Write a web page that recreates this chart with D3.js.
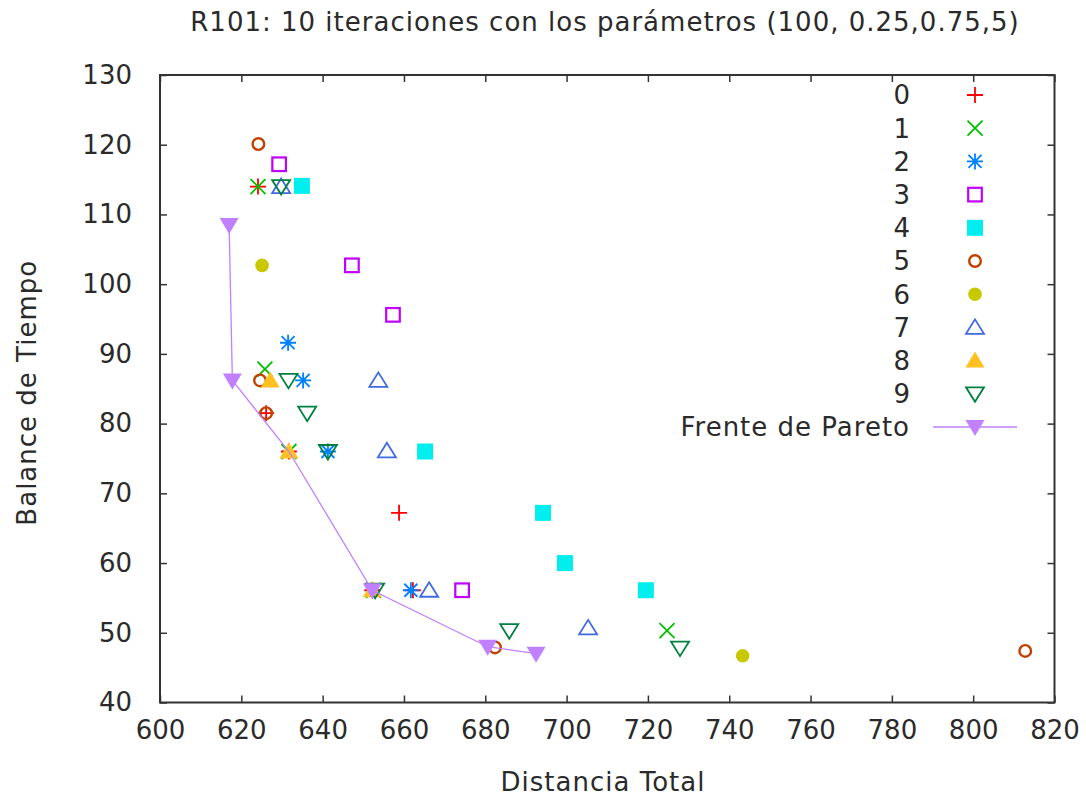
<!DOCTYPE html>
<html>
<head>
<meta charset="utf-8">
<script src="https://cdn.jsdelivr.net/npm/d3@7"></script>
<style>
  html, body { margin: 0; padding: 0; background: #fff; }
  svg { display: block; }
  text { font-family: "DejaVu Sans", sans-serif; fill: #2a2a2a; }
</style>
</head>
<body>
<svg id="chart" width="1086" height="797"></svg>
<script>
// Iteration results: Distancia Total (x) vs Balance de Tiempo (y)
const seriesNames = ["0", "1", "2", "3", "4", "5", "6", "7", "8", "9"];
const seriesColors = ["#ff0000", "#00c000", "#0080ff", "#c000ff", "#00eeee",
                      "#c04000", "#c8c800", "#4169e1", "#ffc020", "#008040"];
const seriesSymbols = ["plus", "cross", "star", "square", "squareFill",
                       "circle", "circleFill", "tri", "triFill", "triDown"];

const x0 = [624.1, 626.1, 631.7, 652.2, 658.8, 662.2];
const y0 = [114, 81.5, 76, 56.1, 67.2, 56.1];
const x1 = [624.1, 625.8, 631.7, 652.5, 724.7];
const y1 = [114, 87.8, 76, 56.1, 50.3];
const x2 = [631.5, 635.2, 641.3, 661.7];
const y2 = [91.6, 86.2, 76, 56.1];
const x3 = [629.3, 647.2, 657.3, 674.3];
const y3 = [117.2, 102.7, 95.6, 56.1];
const x4 = [634.9, 665.2, 694.2, 699.6, 719.5];
const y4 = [114.1, 76, 67.2, 60, 56.1];
const x5 = [624.2, 624.6, 626.1, 682.4, 812.8];
const y5 = [120.1, 86.2, 81.5, 47.9, 47.4];
const x6 = [625.1, 743.3];
const y6 = [102.7, 46.7];
const x7 = [629.8, 653.7, 655.8, 666.2, 705.3];
const y7 = [114, 86.2, 76.1, 56.1, 50.7];
const x8 = [627.1, 631.7, 652.2];
const y8 = [86.2, 76, 56.1];
const x9 = [629.8, 631.6, 636.2, 641.3, 652.9, 685.9, 727.9];
const y9 = [114, 86.2, 81.5, 76, 56.1, 50.3, 47.8];

// Pareto front: vertices of the polyline; marked = vertex drawn with a symbol
const paretoName = "Frente de Pareto";
const paretoX = [617, 617.8, 631.7, 652.2, 680.6, 692.5];
const paretoY = [108.5, 86.2, 76, 56.1, 48, 47];
const paretoMarked = [true, true, false, true, true, true];
const paretoColor = "#c080ff";

const xTicks = [600, 620, 640, 660, 680, 700, 720, 740, 760, 780, 800, 820];
const yTicks = [40, 50, 60, 70, 80, 90, 100, 110, 120, 130];

const titleText = "R101: 10 iteraciones con los parámetros (100, 0.25,0.75,5)";
const xLabel = "Distancia Total";
const yLabel = "Balance de Tiempo";

const allX = [x0, x1, x2, x3, x4, x5, x6, x7, x8, x9];
const allY = [y0, y1, y2, y3, y4, y5, y6, y7, y8, y9];
const series = seriesNames.map((name, i) => ({
  name, color: seriesColors[i], symbol: seriesSymbols[i],
  points: allX[i].map((v, j) => ({ x: v, y: allY[i][j] }))
}));
const pareto = paretoX.map((v, i) => ({ x: v, y: paretoY[i], marked: paretoMarked[i] }));

const svg = d3.select("#chart");
const plotLeft = 160, plotRight = 1054.5, plotTop = 75, plotBottom = 702.5;
const fontSize = 26;
const spacing = "1px";

const x = d3.scaleLinear().domain([600, 820]).range([plotLeft, plotRight]);
const y = d3.scaleLinear().domain([40, 130]).range([plotBottom, plotTop]);

// Symbol painter (gnuplot-like point types)
function drawSymbol(g, type, color) {
  const sw = 1.8;
  switch (type) {
    case "plus":
      g.append("path").attr("d", "M-8,0H8M0,-8V8").attr("stroke", color).attr("stroke-width", sw).attr("fill", "none");
      break;
    case "cross":
      g.append("path").attr("d", "M-7.5,-7.5L7.5,7.5M-7.5,7.5L7.5,-7.5").attr("stroke", color).attr("stroke-width", sw).attr("fill", "none");
      break;
    case "star":
      g.append("path").attr("d", "M-8,0H8M0,-8V8M-6.5,-6.5L6.5,6.5M-6.5,6.5L6.5,-6.5").attr("stroke", color).attr("stroke-width", sw).attr("fill", "none");
      break;
    case "square":
      g.append("rect").attr("x", -6.8).attr("y", -6.8).attr("width", 13.6).attr("height", 13.6)
        .attr("stroke", color).attr("stroke-width", 2.2).attr("fill", "none");
      break;
    case "squareFill":
      g.append("rect").attr("x", -8).attr("y", -8).attr("width", 16).attr("height", 16).attr("fill", color);
      break;
    case "circle":
      g.append("circle").attr("r", 5.8).attr("stroke", color).attr("stroke-width", 2.4).attr("fill", "none");
      break;
    case "circleFill":
      g.append("circle").attr("r", 6.8).attr("fill", color);
      break;
    case "tri":
      g.append("path").attr("d", "M0,-8L9,6.5H-9Z").attr("stroke", color).attr("stroke-width", 1.8).attr("fill", "none");
      break;
    case "triFill":
      g.append("path").attr("d", "M0,-9L9.5,7H-9.5Z").attr("fill", color);
      break;
    case "triDown":
      g.append("path").attr("d", "M0,8L9,-6.5H-9Z").attr("stroke", color).attr("stroke-width", 1.8).attr("fill", "none");
      break;
    case "triDownFill":
      g.append("path").attr("d", "M0,9L9.5,-7H-9.5Z").attr("fill", color);
      break;
  }
}

// Axes with inward ticks, mirrored on top and right
const tick = 7;
const gx = svg.append("g").attr("transform", `translate(0,${plotBottom})`)
  .call(d3.axisBottom(x).tickValues(xTicks).tickSizeInner(-tick).tickSizeOuter(0).tickPadding(18));
const gxTop = svg.append("g").attr("transform", `translate(0,${plotTop})`)
  .call(d3.axisTop(x).tickValues(xTicks).tickSizeInner(-tick).tickSizeOuter(0).tickFormat(""));
const gy = svg.append("g").attr("transform", `translate(${plotLeft},0)`)
  .call(d3.axisLeft(y).tickValues(yTicks).tickSizeInner(-tick).tickSizeOuter(0).tickPadding(28));
const gyRight = svg.append("g").attr("transform", `translate(${plotRight},0)`)
  .call(d3.axisRight(y).tickValues(yTicks).tickSizeInner(-tick).tickSizeOuter(0).tickFormat(""));

[gx, gxTop, gy, gyRight].forEach(g => {
  g.select(".domain").remove();
  g.selectAll(".tick line").attr("stroke", "#333").attr("stroke-width", 1.5);
  g.selectAll(".tick text").attr("font-size", fontSize).attr("font-family", "DejaVu Sans").attr("fill", "#2a2a2a");
});

svg.append("rect").attr("x", plotLeft).attr("y", plotTop)
  .attr("width", plotRight - plotLeft).attr("height", plotBottom - plotTop)
  .attr("fill", "none").attr("stroke", "#333").attr("stroke-width", 2);

// Title and axis labels
svg.append("text").attr("x", 605).attr("y", 31).attr("text-anchor", "middle")
  .attr("font-size", fontSize).attr("letter-spacing", spacing).text(titleText);
svg.append("text").attr("x", 603).attr("y", 791).attr("text-anchor", "middle")
  .attr("font-size", fontSize).attr("letter-spacing", spacing).text(xLabel);
svg.append("text").attr("transform", `translate(36,${(plotTop + plotBottom) / 2 + 4}) rotate(-90)`)
  .attr("text-anchor", "middle").attr("font-size", fontSize).attr("letter-spacing", spacing).text(yLabel);

// Scatter series
series.forEach(s => {
  svg.append("g").selectAll("g").data(s.points).join("g")
    .attr("transform", d => `translate(${x(d.x)},${y(d.y)})`)
    .each(function () { drawSymbol(d3.select(this), s.symbol, s.color); });
});

// Pareto front
svg.append("path").datum(pareto)
  .attr("d", d3.line().x(d => x(d.x)).y(d => y(d.y)))
  .attr("fill", "none").attr("stroke", paretoColor).attr("stroke-width", 1.3);
svg.append("g").selectAll("g").data(pareto.filter(d => d.marked)).join("g")
  .attr("transform", d => `translate(${x(d.x)},${y(d.y)})`)
  .each(function () { drawSymbol(d3.select(this), "triDownFill", paretoColor); });

// Legend
const legX = 910, legSym = 975, legY0 = 95, legStep = 33.2;
const leg = svg.append("g");
series.forEach((s, i) => {
  const yy = legY0 + i * legStep;
  leg.append("text").attr("x", legX).attr("y", yy).attr("dy", "0.36em")
    .attr("text-anchor", "end").attr("font-size", fontSize).text(s.name);
  const g = leg.append("g").attr("transform", `translate(${legSym},${yy})`);
  drawSymbol(g, s.symbol, s.color);
});
{
  const yy = legY0 + series.length * legStep;
  leg.append("text").attr("x", legX).attr("y", yy).attr("dy", "0.36em")
    .attr("text-anchor", "end").attr("font-size", fontSize).attr("letter-spacing", spacing).text(paretoName);
  leg.append("line").attr("x1", 933).attr("x2", 1017).attr("y1", yy).attr("y2", yy)
    .attr("stroke", paretoColor).attr("stroke-width", 1.3);
  const g = leg.append("g").attr("transform", `translate(${legSym},${yy})`);
  drawSymbol(g, "triDownFill", paretoColor);
}
</script>
</body>
</html>
